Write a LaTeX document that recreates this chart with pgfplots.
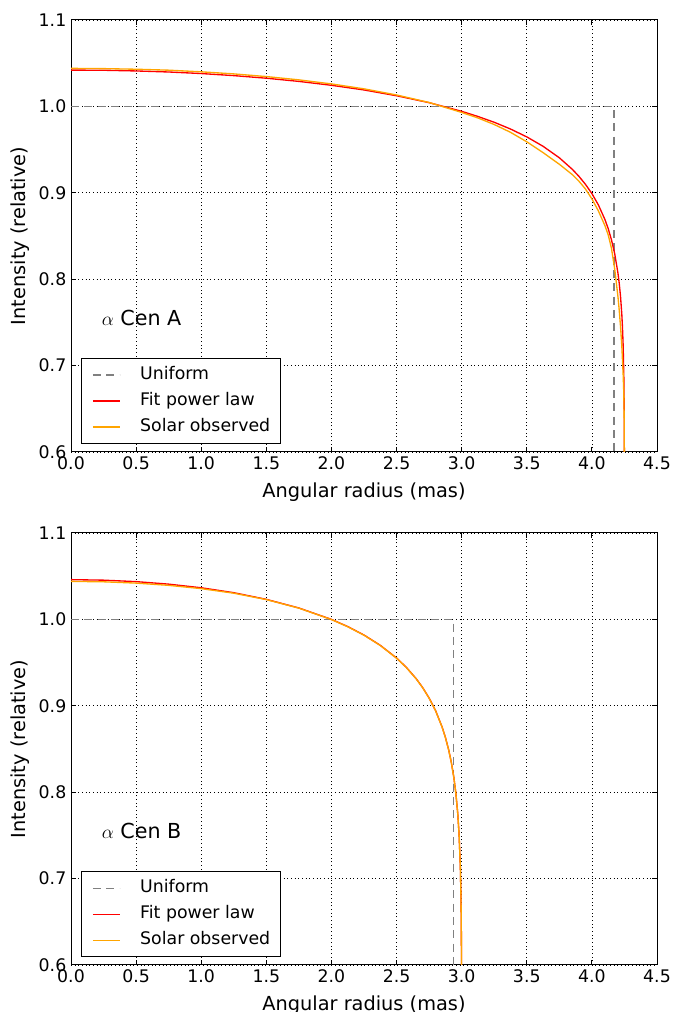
\documentclass[border=0pt]{standalone}
\usepackage{pgfplots}
\pgfplotsset{compat=1.18}
\usepackage{fontspec}
\setmainfont{DejaVu Sans}
\definecolor{mplorange}{rgb}{1,0.647,0}
\definecolor{mplred}{rgb}{1,0,0}
\definecolor{mplgray}{rgb}{0.5,0.5,0.5}
\pgfplotsset{
 mystyle/.style={
  scale only axis, width=439.5pt, height=324pt,
  xmin=0, xmax=4.5, ymin=0.6, ymax=1.1,
  xtick={0,0.5,1,1.5,2,2.5,3,3.5,4,4.5},
  ytick={0.6,0.7,0.8,0.9,1.0,1.1},
  tick align=inside, major tick length=4pt,
  grid=major,
  major grid style={black, line width=0.5pt, dash pattern=on 0.75pt off 2pt},
  axis line style={black, line width=0.75pt},
  tick style={black, line width=0.75pt},
  /pgf/number format/assume math mode=true,
  ticklabel style={font=\fontsize{13}{15}\selectfont},
  xticklabel style={/pgf/number format/.cd,fixed,fixed zerofill,precision=1},
  yticklabel style={/pgf/number format/.cd,fixed,fixed zerofill,precision=1},
  label style={font=\fontsize{14.5}{17}\selectfont},
  x label style={at={(axis description cs:0.5,-0.0926)}, anchor=center},
  y label style={at={(axis description cs:-0.087,0.5)}, anchor=center},
  xlabel={Angular radius (mas)}, ylabel={Intensity (relative)},
  legend style={at={(0.0171,0.0185)}, anchor=south west, draw=black, line width=0.75pt,
    fill=white, font=\fontsize{13}{15}\selectfont, row sep=0pt,
    inner xsep=8pt, inner ysep=2.5pt,
    nodes={inner xsep=0pt, inner ysep=3.25pt, text height=10pt, text depth=3pt}},
  legend cell align=left,
  legend image code/.code={\draw[#1] (0pt,0pt) -- (20pt,0pt); \path (35pt,0pt);},
 }
}
\begin{document}
\begin{tikzpicture}
\path[use as bounding box] (0,0) rectangle (504pt,759pt);
% ---------- alpha Cen A ----------
\begin{axis}[mystyle, at={(53.25pt,420pt)}, anchor=south west]
\addplot[mplgray, line width=1pt, dash pattern=on 6pt off 4pt] coordinates {
(0,1.0) (4.17,1.0) (4.17,0.0)};
\addlegendentry{Uniform}
\addplot[mplred, line width=1pt] coordinates {
(0,1.0420) (0.25,1.0418) (0.5,1.0410) (0.75,1.0398) (1.0,1.0380) (1.25,1.0356)
(1.5,1.0326) (1.75,1.0289) (2.0,1.0244) (2.25,1.0190) (2.5,1.0123) (2.75,1.0043)
(3.0,0.9943) (3.125,0.9883) (3.25,0.9816) (3.375,0.9738) (3.5,0.9647) (3.625,0.9538)
(3.75,0.9405) (3.85,0.9271) (3.9,0.9191) (3.95,0.9099) (4.0,0.8991) (4.05,0.8859)
(4.1,0.8691) (4.125,0.8586) (4.15,0.8458) (4.175,0.8296) (4.2,0.8072) (4.21,0.7951)
(4.22,0.7798) (4.23,0.7587) (4.235,0.7439) (4.24,0.7237) (4.245,0.6904)
(4.2475,0.6588) (4.249,0.6188) (4.25,0.5)};
\addlegendentry{Fit power law}
\addplot[mplorange, line width=1pt] coordinates {
(0,1.0440) (0.25,1.0437) (0.5,1.0430) (0.75,1.0419) (1.0,1.0400) (1.25,1.0376)
(1.5,1.0345) (1.75,1.0307) (2.0,1.0260) (2.25,1.0203) (2.5,1.0132) (2.75,1.0045)
(3.0,0.9930) (3.125,0.9866) (3.25,0.9790) (3.375,0.9700) (3.5,0.9590) (3.625,0.9465)
(3.75,0.9330) (3.85,0.9210) (3.9,0.9135) (3.95,0.9045) (4.0,0.8930) (4.05,0.8790)
(4.1,0.8620) (4.125,0.8515) (4.15,0.8360) (4.175,0.8120) (4.2,0.7800) (4.21,0.7640)
(4.22,0.7450) (4.23,0.7220) (4.24,0.6900) (4.245,0.6680) (4.2475,0.6450)
(4.249,0.6200) (4.25,0.5)};
\addlegendentry{Solar observed}
\node[anchor=west, font=\fontsize{15.5}{18}\selectfont] at (axis cs:0.2,0.755) {$\alpha$ Cen A};
\end{axis}
% ---------- alpha Cen B ----------
\begin{axis}[mystyle, at={(53.25pt,35.25pt)}, anchor=south west]
\addplot[mplgray, line width=1pt, dash pattern=on 6pt off 4pt] coordinates {
(0,1.0) (2.937,1.0) (2.937,0.0)};
\addlegendentry{Uniform}
\addplot[mplred, line width=1pt] coordinates {
(0,1.0460) (0.25,1.0454) (0.5,1.0437) (0.75,1.0408) (1.0,1.0366) (1.25,1.0309)
(1.5,1.0232) (1.75,1.0132) (2.0,1.0000) (2.125,0.9917) (2.25,0.9819) (2.375,0.9700)
(2.5,0.9553) (2.575,0.9445) (2.65,0.9315) (2.7,0.9212) (2.75,0.9090) (2.8,0.8943)
(2.85,0.8754) (2.875,0.8635) (2.9,0.8492) (2.92,0.8350) (2.94,0.8171) (2.955,0.7994)
(2.97,0.7752) (2.98,0.7516) (2.99,0.7129) (2.995,0.6761) (2.997,0.6502)
(2.999,0.5978) (3.0,0.5)};
\addlegendentry{Fit power law}
\addplot[mplorange, line width=1pt] coordinates {
(0,1.0440) (0.25,1.0435) (0.5,1.0420) (0.75,1.0394) (1.0,1.0356) (1.25,1.0303)
(1.5,1.0229) (1.75,1.0130) (2.0,0.9998) (2.125,0.9915) (2.25,0.9817) (2.375,0.9698)
(2.5,0.9551) (2.575,0.9443) (2.65,0.9313) (2.7,0.9210) (2.75,0.9088) (2.8,0.8941)
(2.85,0.8752) (2.875,0.8633) (2.9,0.8490) (2.92,0.8348) (2.94,0.8169) (2.955,0.7992)
(2.97,0.7750) (2.98,0.7514) (2.99,0.7127) (2.995,0.6759) (2.997,0.6500)
(2.999,0.5976) (3.0,0.5)};
\addlegendentry{Solar observed}
\node[anchor=west, font=\fontsize{15.5}{18}\selectfont] at (axis cs:0.2,0.755) {$\alpha$ Cen B};
\end{axis}
\end{tikzpicture}
\end{document}
